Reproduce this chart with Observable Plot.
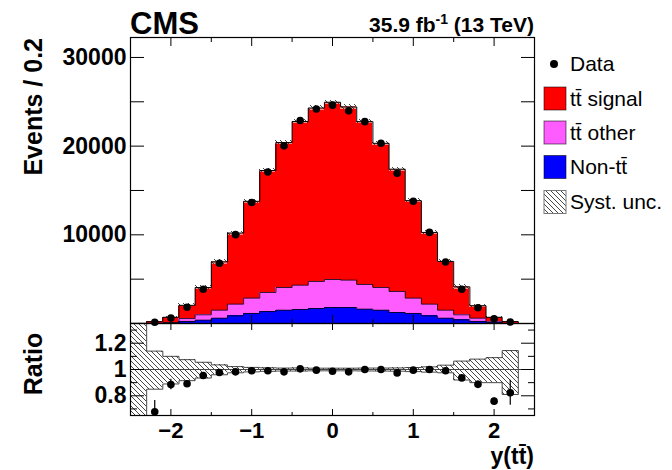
<!DOCTYPE html>
<html><head><meta charset="utf-8">
<script src="https://cdn.jsdelivr.net/npm/d3@7"></script>
<script src="https://cdn.jsdelivr.net/npm/@observablehq/plot@0.6"></script>
<style>
html,body{margin:0;padding:0;background:#fff;}
#wrap{position:relative;width:672px;height:470px;overflow:hidden;font-family:"Liberation Sans",Arial,sans-serif;}
#wrap svg{position:absolute;left:0;top:0;}
</style></head><body>
<svg width="0" height="0" style="position:absolute">
  <defs>
    <pattern id="hatch" patternUnits="userSpaceOnUse" width="5" height="5">
      <path d="M-1,-1L6,6M-1,4L1,6M4,-1L6,1" stroke="#333" stroke-width="0.9" fill="none"/>
    </pattern>
  </defs>
</svg>
<div id="wrap"></div>
<script>
// ---- data ----
const binWidth = 0.2;
const binCenters = [-2.4,-2.2,-2.0,-1.8,-1.6,-1.4,-1.2,-1.0,-0.8,-0.6,-0.4,-0.2,0,0.2,0.4,0.6,0.8,1.0,1.2,1.4,1.6,1.8,2.0,2.2,2.4];
const nonTT    = [0,5,40,230,380,600,860,1130,1350,1500,1580,1690,1800,1800,1620,1500,1240,1130,860,600,410,230,75,5,0];
const ttOther  = [0,5,70,330,600,900,1320,1730,2150,2560,2740,3050,3160,3090,2780,2560,2370,1730,1320,900,570,370,115,5,0];
const ttSignal = [20,190,590,1490,3070,5450,8020,10920,13750,16340,18460,19560,19990,19530,18360,16260,13790,10990,8090,5500,3150,1400,510,200,0];
const dataCounts = [0,140,620,1830,3860,6790,10020,13640,17080,20030,22890,24180,24620,23980,22760,20320,16950,13780,10270,6930,3870,1770,530,170,0];
const ratioVals = [null,0.679,0.885,0.892,0.954,0.977,0.982,0.99,0.99,0.982,1.005,0.995,0.987,0.982,1.0,1.0,0.974,0.995,1.0,0.99,0.936,0.887,0.759,0.823,null];
const ratioErr  = [null,0.085,0.04,0.025,0.017,0.013,0.01,0.009,0.008,0.007,0.007,0.007,0.007,0.007,0.007,0.007,0.008,0.009,0.01,0.013,0.017,0.025,0.025,0.095,null];
const systUp   = [0.6,0.14,0.10,0.075,0.055,0.035,0.022,0.016,0.013,0.011,0.012,0.010,0.010,0.010,0.011,0.011,0.012,0.015,0.020,0.033,0.064,0.079,0.090,0.144,0];
const systDown = [0.6,0.15,0.11,0.085,0.065,0.04,0.025,0.018,0.014,0.012,0.012,0.010,0.010,0.010,0.011,0.012,0.013,0.016,0.020,0.025,0.080,0.100,0.100,0.190,0];
const xTicks = [-2,-1,0,1,2];
const xMinor = [-2.5,-1.5,-0.5,0.5,1.5,2.5];
const yTicks = [10000,20000,30000];
const yMinor = [5000,15000,25000];
const ratioTicks = [0.8,1,1.2];
const ratioMinor = [0.7,0.9,1.1,1.3];
const legendLabels = ["Data","t\u0074\u0304 signal","t\u0074\u0304 other","Non-t\u0074\u0304","Syst. unc."];
const legendColors = [null,"#ff0000","#ff5cff","#0000ff","url(#hatch)"];

// ---- derived table ----
const bins = binCenters.map((c,i)=>{
  const t1 = nonTT[i], t2 = t1 + ttOther[i], t3 = t2 + ttSignal[i];
  return {c, x1:c-binWidth/2, x2:c+binWidth/2, t1, t2, t3, data:dataCounts[i],
    ratio:ratioVals[i], rerr:ratioErr[i], up:systUp[i], dn:systDown[i]};
});
const steps = (f) => bins.map(b=>({x:b.x1, y:f(b)})).concat([{x:bins[bins.length-1].x2, y:f(bins[bins.length-1])}]);

const FONT = "Liberation Sans, Arial, sans-serif";
const W = 672, H = 470;
const common = {width:W, height:H, marginLeft:130, marginRight:138,
  style:{background:"transparent", fontFamily:FONT, overflow:"visible"}};

const intFmt = d => d < 0 ? "\u2212" + Math.abs(d) : String(d);
const crisp = {shapeRendering:"crispEdges"};

const upper = Plot.plot({
  ...common, marginTop:37, marginBottom:H-323,
  x:{domain:[-2.5,2.5], axis:null},
  y:{domain:[0,32250], axis:null},
  marks:[
    Plot.rect(bins, {x1:"x1", x2:"x2", y1:0, y2:"t1", fill:"#0000ff", ...crisp}),
    Plot.rect(bins, {x1:"x1", x2:"x2", y1:"t1", y2:"t2", fill:"#ff5cff", ...crisp}),
    Plot.rect(bins, {x1:"x1", x2:"x2", y1:"t2", y2:"t3", fill:"#ff0000", ...crisp}),
    Plot.line(steps(b=>b.t1), {x:"x", y:"y", curve:"step-after", stroke:"#000", strokeWidth:0.8}),
    Plot.line(steps(b=>b.t2), {x:"x", y:"y", curve:"step-after", stroke:"#000", strokeWidth:0.8}),
    Plot.rect(bins.filter(b=>b.t3>0), {x1:"x1", x2:"x2", y1:b=>b.t3*(1-b.dn), y2:b=>b.t3*(1+b.up), fill:"#fff", fillOpacity:0.55, ...crisp}),
    Plot.rect(bins.filter(b=>b.t3>0), {x1:"x1", x2:"x2", y1:b=>b.t3*(1-b.dn), y2:b=>b.t3*(1+b.up), fill:"url(#hatch)", ...crisp}),
    Plot.line(steps(b=>b.t3), {x:"x", y:"y", curve:"step-after", stroke:"#000", strokeWidth:1}),
    Plot.dot(bins.filter(b=>b.data>0), {x:"c", y:"data", r:3.8, fill:"#000", stroke:null}),
    Plot.axisY(yTicks, {anchor:"left", tickSize:0, tickPadding:4, tickFormat:d=>String(d), fontSize:23, fontWeight:"bold", fill:"#000", label:null}),
    Plot.axisY(yTicks.concat(yMinor), {anchor:"left", tickSize:-14, tickFormat:()=>"", label:null}),
    Plot.axisY(yTicks.concat(yMinor), {anchor:"right", tickSize:-14, tickFormat:()=>"", label:null}),
    Plot.axisX(xTicks, {anchor:"top", tickSize:-8, tickFormat:()=>"", label:null}),
    Plot.axisX(xMinor, {anchor:"top", tickSize:-4, tickFormat:()=>"", label:null}),
    Plot.axisX(xTicks, {anchor:"bottom", tickSize:-8, tickFormat:()=>"", label:null}),
    Plot.axisX(xMinor, {anchor:"bottom", tickSize:-4, tickFormat:()=>"", label:null}),
    Plot.frame({stroke:"#000", strokeWidth:1.2})
  ]
});

const lower = Plot.plot({
  ...common, marginTop:323, marginBottom:H-415,
  x:{domain:[-2.5,2.5], axis:null},
  y:{domain:[0.65,1.35], axis:null},
  marks:[
    Plot.rect(bins.filter(b=>b.t3>0), {x1:"x1", x2:"x2", y1:b=>1-b.dn, y2:b=>1+b.up, fill:"url(#hatch)", clip:true, ...crisp}),
    Plot.line(steps(b=>b.t3>0 ? 1+b.up : 1), {x:"x", y:"y", curve:"step-after", stroke:"#333", strokeWidth:0.9, clip:true}),
    Plot.line(steps(b=>b.t3>0 ? 1-b.dn : 1), {x:"x", y:"y", curve:"step-after", stroke:"#333", strokeWidth:0.9, clip:true}),
    Plot.ruleY([1], {stroke:"#444", strokeWidth:1}),
    Plot.ruleX(bins.filter(b=>b.ratio!=null), {x:"c", y1:b=>b.ratio-b.rerr, y2:b=>b.ratio+b.rerr, stroke:"#000", strokeWidth:1.2, clip:true}),
    Plot.dot(bins.filter(b=>b.ratio!=null), {x:"c", y:"ratio", r:3.8, fill:"#000", stroke:null}),
    Plot.axisY(ratioTicks, {anchor:"left", tickSize:0, tickPadding:4, tickFormat:d=>String(d), fontSize:23, fontWeight:"bold", fill:"#000", label:null}),
    Plot.axisY(ratioTicks, {anchor:"left", tickSize:-14, tickFormat:()=>"", label:null}),
    Plot.axisY(ratioMinor, {anchor:"left", tickSize:-7, tickFormat:()=>"", label:null}),
    Plot.axisY(ratioTicks, {anchor:"right", tickSize:-14, tickFormat:()=>"", label:null}),
    Plot.axisY(ratioMinor, {anchor:"right", tickSize:-7, tickFormat:()=>"", label:null}),
    Plot.axisX(xTicks, {anchor:"bottom", tickSize:0, tickPadding:7, tickFormat:intFmt, fontSize:22, fontWeight:"bold", fill:"#000", label:null}),
    Plot.axisX(xTicks, {anchor:"bottom", tickSize:-6, tickFormat:()=>"", label:null}),
    Plot.axisX(xMinor, {anchor:"bottom", tickSize:-3, tickFormat:()=>"", label:null}),
    Plot.axisX(xTicks, {anchor:"top", tickSize:-6, tickFormat:()=>"", label:null}),
    Plot.axisX(xMinor, {anchor:"top", tickSize:-3, tickFormat:()=>"", label:null}),
    Plot.frame({stroke:"#000", strokeWidth:1.2})
  ]
});

const wrap = document.getElementById("wrap");
wrap.appendChild(upper);
wrap.appendChild(lower);

// ---- titles, axis titles and legend (text overlay) ----
const ov = d3.select(wrap).append("svg").attr("width",W).attr("height",H).style("font-family",FONT);
ov.append("text").attr("x",130).attr("y",34).attr("font-size",31).attr("font-weight","bold").text("CMS");
const lumi = ov.append("text").attr("x",534).attr("y",32).attr("text-anchor","end").attr("font-size",21).attr("font-weight","bold");
lumi.append("tspan").text("35.9 fb");
lumi.append("tspan").attr("font-size",14).attr("dy",-8).text("-1");
lumi.append("tspan").attr("dy",8).text(" (13 TeV)");
ov.append("text").attr("transform","translate(42,38) rotate(-90)").attr("text-anchor","end").attr("font-size",25).attr("font-weight","bold").text("Events / 0.2");
ov.append("text").attr("transform","translate(42,364) rotate(-90)").attr("text-anchor","middle").attr("font-size",25).attr("font-weight","bold").text("Ratio");
ov.append("text").attr("x",534).attr("y",464).attr("text-anchor","end").attr("font-size",23).attr("font-weight","bold").text("y(t\u0074\u0304)");

const legY = [64, 98.5, 132.5, 167, 202];
legendLabels.forEach((lab,i)=>{
  const y = legY[i];
  if (i===0) ov.append("circle").attr("cx",554).attr("cy",y).attr("r",4).attr("fill","#000");
  else {
    if (i===4) ov.append("rect").attr("x",544).attr("y",y-11.5).attr("width",22).attr("height",23).attr("fill","#fff");
    ov.append("rect").attr("x",544).attr("y",y-11.5).attr("width",22).attr("height",23).attr("fill",legendColors[i]).attr("stroke", i===4 ? "#777" : "rgba(0,0,0,0.55)").attr("stroke-width",1);
  }
  ov.append("text").attr("x",570).attr("y",y+7).attr("font-size",21).text(lab);
});
</script>
</body></html>
